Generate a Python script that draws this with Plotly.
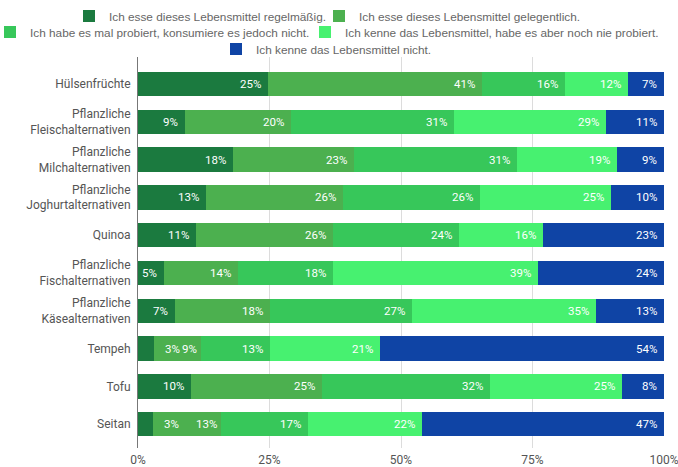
import plotly.graph_objects as go

categories = [
    "Hülsenfrüchte",
    "Pflanzliche<br>Fleischalternativen",
    "Pflanzliche<br>Milchalternativen",
    "Pflanzliche<br>Joghurtalternativen",
    "Quinoa",
    "Pflanzliche<br>Fischalternativen",
    "Pflanzliche<br>Käsealternativen",
    "Tempeh",
    "Tofu",
    "Seitan",
]
regelmaessig = [25, 9, 18, 13, 11, 5, 7, 3, 10, 3]
gelegentlich = [41, 20, 23, 26, 26, 14, 18, 9, 25, 13]
probiert = [16, 31, 31, 26, 24, 18, 27, 13, 32, 17]
nie_probiert = [12, 29, 19, 25, 16, 39, 35, 21, 25, 22]
unbekannt = [7, 11, 9, 10, 23, 24, 13, 54, 8, 47]

series_names = [
    "Ich esse dieses Lebensmittel regelmäßig.",
    "Ich esse dieses Lebensmittel gelegentlich.",
    "Ich habe es mal probiert, konsumiere es jedoch nicht.",
    "Ich kenne das Lebensmittel, habe es aber noch nie probiert.",
    "Ich kenne das Lebensmittel nicht.",
]
series_values = [regelmaessig, gelegentlich, probiert, nie_probiert, unbekannt]
colors = ["#1b7a3f", "#4cb04f", "#37c75a", "#47f170", "#0f44a5"]
legend_ids = ["legend", "legend2", "legend3", "legend4", "legend5"]

tick_values = [0, 25, 50, 75, 100]
tick_labels = ["0%", "25%", "50%", "75%", "100%"]

fig = go.Figure()
for name, vals, col, lg in zip(series_names, series_values, colors, legend_ids):
    fig.add_trace(go.Bar(
        y=categories, x=vals, name=name, orientation="h",
        marker=dict(color=col, line=dict(width=0)),
        legend=lg, showlegend=True,
    ))

# value labels at the (normalized) end of each segment
totals = [sum(s[i] for s in series_values) for i in range(len(categories))]
annotations = []
for i, cat in enumerate(categories):
    cum = 0.0
    prev_small = False
    for vals in series_values:
        v = vals[i]
        norm = v / totals[i] * 100
        cum += norm
        small = norm < 4
        if small:
            anchor, shift = "left", 9
        else:
            anchor, shift = "right", (-2 if prev_small else -5)
        annotations.append(dict(
            x=cum, y=cat, xref="x", yref="y", text=f"{v}%", showarrow=False,
            xanchor=anchor, xshift=shift,
            font=dict(family="Roboto", size=11.5, color="white"),
        ))
        prev_small = small

# legend layout: one entry per legend box, arranged in three centred rows
L, W = 138, 526          # plot area left / width in px
T, H = 57, 391           # plot area top / height in px
def leg(px_left, py_center, indent=0):
    return dict(orientation="h", xanchor="left", yanchor="middle",
                x=(px_left - L) / W, y=(T + H - py_center) / H,
                indentation=indent,
                font=dict(family="Liberation Sans, Arial", size=11.8, color="#666666"),
                bgcolor="rgba(0,0,0,0)", itemclick=False, itemdoubleclick=False)

fig.update_layout(
    width=678, height=467,
    margin=dict(l=L, r=678 - L - W, t=T, b=467 - T - H, autoexpand=False),
    barmode="stack", barnorm="percent", bargap=0.352,
    plot_bgcolor="white", paper_bgcolor="white",
    font=dict(family="Roboto", size=12, color="#555555"),
    showlegend=True,
    legend=leg(69, 16),
    legend2=leg(319, 16),
    legend3=leg(0, 32, indent=-10),
    legend4=leg(305, 32),
    legend5=leg(216, 49),
    annotations=annotations,
    xaxis=dict(range=[0, 100], tickvals=tick_values, ticktext=tick_labels,
               showgrid=True, gridcolor="#dcdcdc", gridwidth=1, zeroline=False,
               ticklabelstandoff=3, ticklabeloverflow="allow", fixedrange=True,
               tickfont=dict(family="Roboto", size=12, color="#555555")),
    yaxis=dict(type="category", range=[9.63, -0.714], showgrid=False,
               showline=True, linecolor="#777777", linewidth=1,
               ticks="", ticklabelstandoff=4, fixedrange=True,
               tickfont=dict(family="Roboto", size=12, color="#555555")),
)

fig.write_html("out.html")
